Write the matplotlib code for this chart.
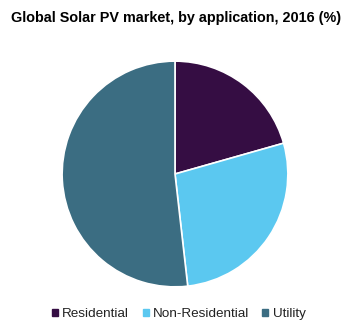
import matplotlib.pyplot as plt
import matplotlib.patches as mpatches

plt.rcParams['font.family'] = ['Liberation Sans', 'DejaVu Sans']

# market share by application, 2016 (%)
labels = ['Residential', 'Non-Residential', 'Utility']
shares = [20.6, 27.6, 51.8]
colors = ['#350d43', '#5bc8f0', '#3b6d82']

fig = plt.figure(figsize=(3.54, 3.31), dpi=100)
ax = fig.add_axes([175/354 - 114/354, 1 - (174 + 114)/331, 228/354, 228/331])

ax.pie(shares, colors=colors, startangle=90, counterclock=False,
       wedgeprops=dict(edgecolor='white', linewidth=1.2))
ax.set_xlim(-1.01, 1.01)
ax.set_ylim(-1.01, 1.01)
ax.set_aspect('equal')

fig.text(0.497, 1 - 18/331, 'Global Solar PV market, by application, 2016 (%)',
         ha='center', va='center', fontsize=10.4, fontweight='bold')

handles = [mpatches.Patch(color=c, label=l) for c, l in zip(colors, labels)]
fig.legend(handles=handles, loc='center', bbox_to_anchor=(0.505, 1 - 314/331),
           ncol=3, frameon=False, fontsize=9.7, handlelength=0.45, handleheight=0.45,
           handletextpad=0.3, columnspacing=1.0, labelcolor='#222222')

fig.savefig('out.png', dpi=100)
